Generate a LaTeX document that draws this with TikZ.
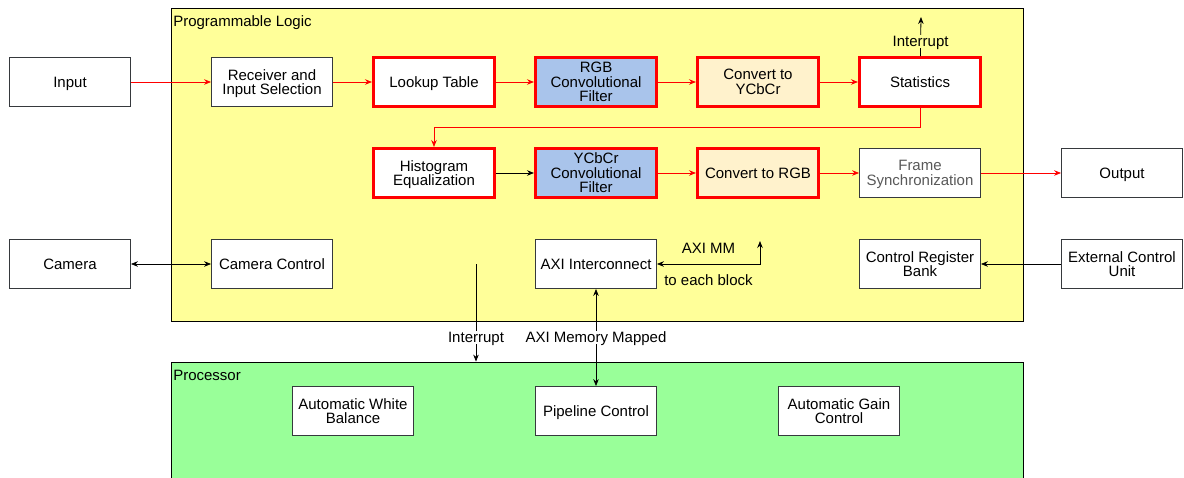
\documentclass[tikz,border=0pt]{standalone}
\usepackage{fontspec}
\setmainfont{Liberation Sans}
\usetikzlibrary{positioning, arrows.meta}

\definecolor{plyellow}{RGB}{255,255,153}
\definecolor{procgreen}{RGB}{153,255,153}
\definecolor{convblue}{RGB}{169,196,235}
\definecolor{cream}{RGB}{255,242,204}
\definecolor{boxline}{RGB}{54,57,61}

\tikzset{
  block/.style={draw=boxline, line width=0.8pt, fill=white, minimum width=121pt,
    minimum height=49pt, align=center, inner sep=1pt, text depth=0pt,
    font=\fontsize{15}{14.5}\selectfont},
  hot/.style={block, draw=red, line width=3pt},
  panel/.style={draw=black, line width=0.8pt, minimum width=852pt},
  lbl/.style={font=\fontsize{15}{14.5}\selectfont, inner sep=1.5pt, text depth=0pt},
  flow/.style={->, red, line width=0.8pt},
  ctl/.style={line width=0.8pt}
}

\begin{document}
\begin{tikzpicture}[x=1pt, y=-1pt, node distance=162pt, on grid, >={Stealth[length=7pt,width=5.5pt]}]
  \clip (0,0) rectangle (1184,477);
  \fill[white] (0,0) rectangle (1184,477);

  % the two regions
  \node[panel, fill=plyellow, minimum height=313pt] (pl) at (597,164.5) {};
  \node[panel, fill=procgreen, minimum height=160pt] (proc) at (597,442) {};
  \node[lbl, anchor=north west] (pltitle) at ([xshift=1pt, yshift=-6pt]pl.north west) {Programmable Logic};
  \node[lbl, anchor=north west] (proctitle) at ([xshift=1pt, yshift=-7pt]proc.north west) {Processor};

  % pipeline
  \node[block] (rx) at (272,82) {Receiver and\\Input Selection};
  \node[block] (in) [left=202pt of rx] {Input};
  \node[hot] (lut) [right=of rx] {Lookup Table};
  \node[hot, fill=convblue] (rgbconv) [right=of lut] {RGB\\Convolutional\\Filter};
  \node[hot, fill=cream] (toycc) [right=of rgbconv] {Convert to\\YCbCr};
  \node[hot] (stats) [right=of toycc] {Statistics};
  \node[hot] (histeq) [below=91pt of lut] {Histogram\\Equalization};
  \node[hot, fill=convblue] (yccconv) [right=of histeq] {YCbCr\\Convolutional\\Filter};
  \node[hot, fill=cream] (torgb) [right=of yccconv] {Convert to RGB};
  \node[block, text=black!65] (fsync) [right=of torgb] {Frame\\Synchronization};
  \node[block] (out) [right=202pt of fsync] {Output};

  % control
  \node[block] (cam) [below=182pt of in] {Camera};
  \node[block] (camctl) [below=182pt of rx] {Camera Control};
  \node[block] (axi) [below=91pt of yccconv] {AXI Interconnect};
  \node[block] (ctlreg) [below=91pt of fsync] {Control Register\\Bank};
  \node[block] (ext) [below=91pt of out] {External Control\\Unit};

  % processor
  \node[block] (pipe) [below=147pt of axi] {Pipeline Control};
  \node[block] (awb) [left=243pt of pipe] {Automatic White\\Balance};
  \node[block] (agc) [right=243pt of pipe] {Automatic Gain\\Control};

  \coordinate (irqtop) at (921,17);
  \coordinate (axitop) at (760,241);
  \coordinate (irqsrc) at (476,264);
  \coordinate (irqend) at (irqsrc |- proc.north);

  \path[flow]
  (in) edge (rx)
  (rx) edge (lut)
  (lut) edge (rgbconv)
  (rgbconv) edge (toycc)
  (toycc) edge (stats)
  (yccconv) edge (torgb)
  (torgb) edge (fsync)
  (fsync) edge (out);
  \draw[flow] (stats.south) -- ++(0,19) -| (histeq.north);

  \path[ctl, ->]
  (histeq) edge (yccconv)
  (stats) edge node[lbl, fill=plyellow, pos=0.38] {Interrupt} (irqtop)
  (ext) edge (ctlreg)
  (irqsrc) edge node[lbl, fill=white, pos=0.755] {Interrupt} (irqend);
  \path[ctl, <->]
  (cam) edge (camctl)
  (axi) edge node[lbl, fill=white] {AXI Memory Mapped} (pipe);
  \draw[ctl, <->] (axitop) |- node[lbl, pos=0.75, above=9pt] {AXI MM}
    node[lbl, pos=0.75, below=8.5pt] {to each block} (axi.east);
\end{tikzpicture}
\end{document}
